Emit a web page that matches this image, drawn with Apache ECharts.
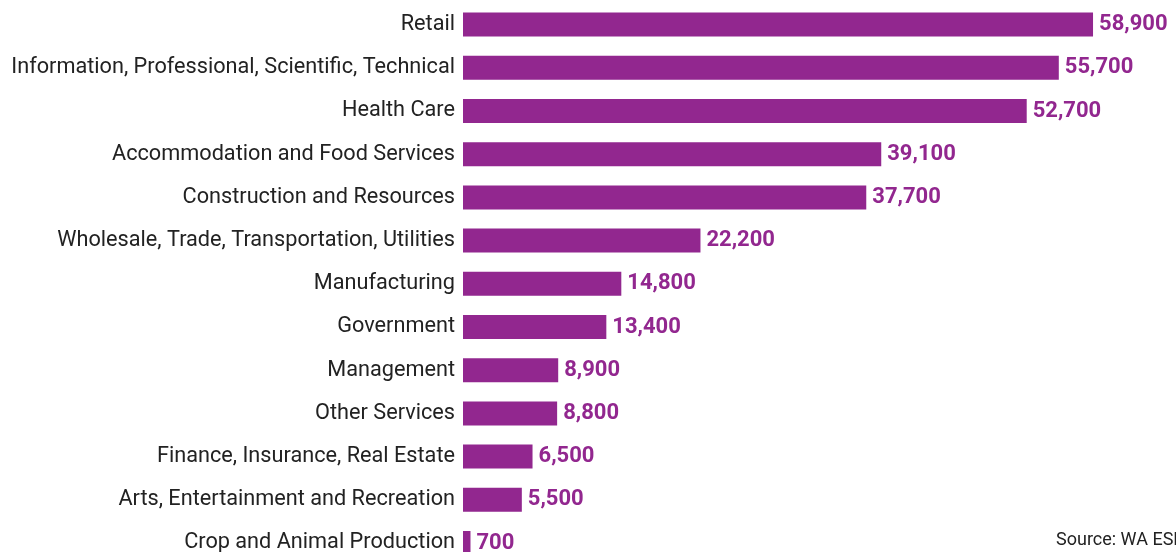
<!DOCTYPE html>
<html><head><meta charset="utf-8">
<script src="https://cdn.jsdelivr.net/npm/echarts@6/dist/echarts.min.js"></script>
<style>html,body{margin:0;padding:0;background:#fff}#c{width:1176px;height:552px}</style>
</head><body><div id="c"></div>
<script>
const categories = ["Retail","Information, Professional, Scientific, Technical","Health Care","Accommodation and Food Services","Construction and Resources","Wholesale, Trade, Transportation, Utilities","Manufacturing","Government","Management","Other Services","Finance, Insurance, Real Estate","Arts, Entertainment and Recreation","Crop and Animal Production"];
const jobs = [58900,55700,52700,39100,37700,22200,14800,13400,8900,8800,6500,5500,700];
const sourceText = "Source: WA ESD";
const FONT = "Roboto, sans-serif";
const chart = echarts.init(document.getElementById('c'), null, {renderer:'canvas'});
chart.setOption({
  animation:false,
  grid:{left:463, width:641.8, top:3, height:561.6, containLabel:false, outerBoundsMode:'none'},
  xAxis:{type:'value', min:0, max:60000, show:false},
  yAxis:{type:'category', data:categories, inverse:true,
    axisLine:{show:false}, axisTick:{show:false}, splitLine:{show:false},
    axisLabel:{color:'#222', fontFamily:FONT, fontSize:21.7, margin:8}},
  series:[{type:'bar', data:jobs, barWidth:24, itemStyle:{color:'#92278F'},
    label:{show:true, position:'right', distance:6, color:'#92278F', fontFamily:FONT, fontWeight:'bold', fontSize:22,
      formatter:p=>p.value.toLocaleString('en-US')}}],
  graphic:[{type:'text', left:1056, top:531, style:{text:sourceText, fill:'#222', font:"18px "+FONT}}]
});
</script></body></html>
